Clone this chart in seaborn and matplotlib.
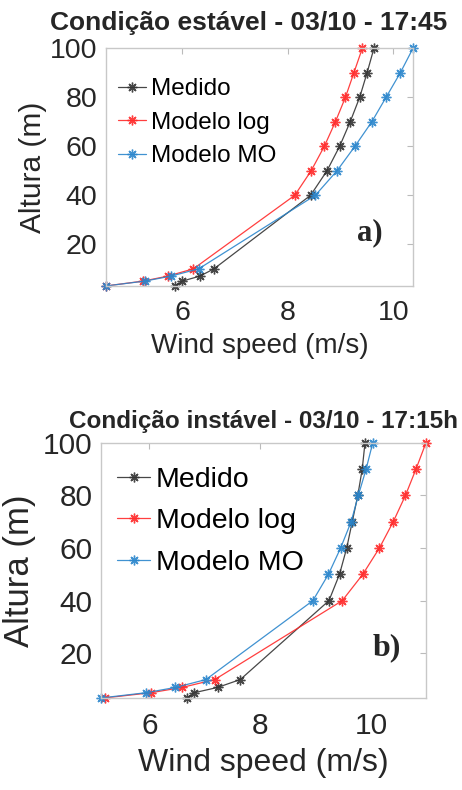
import pandas as pd
import seaborn as sns
import matplotlib.pyplot as plt

# alturas medidas (m)
altura = [3, 5, 7, 10, 40, 50, 60, 70, 80, 90, 100]
series = ["Medido", "Modelo log", "Modelo MO"]

# a) condicao estavel - 03/10 - 17:45
est_medido = [5.87, 6.00, 6.33, 6.60, 8.43, 8.74, 8.98, 9.18, 9.36, 9.50, 9.63]
est_log = [4.55, 5.26, 5.72, 6.21, 8.13, 8.44, 8.69, 8.90, 9.09, 9.25, 9.41]
est_mo = [4.55, 5.29, 5.78, 6.31, 8.52, 8.93, 9.27, 9.59, 9.86, 10.13, 10.37]

# b) condicao instavel - 03/10 - 17:15h
ins_medido = [6.68, 6.81, 7.23, 7.64, 9.24, 9.43, 9.56, 9.66, 9.76, 9.84, 9.89]
ins_log = [5.19, 6.03, 6.59, 7.18, 9.48, 9.85, 10.15, 10.40, 10.62, 10.81, 10.99]
ins_mo = [5.13, 5.94, 6.47, 7.02, 8.95, 9.23, 9.45, 9.64, 9.77, 9.91, 10.03]

cores = {"Medido": "#333333", "Modelo log": "#ff2a2a", "Modelo MO": "#2b86cc"}

sns.set_style("white")
plt.rcParams["font.family"] = ["Liberation Sans", "DejaVu Sans"]


def tabela(vals):
    linhas = []
    for nome, v in zip(series, vals):
        for h, u in zip(altura, v):
            linhas.append({"serie": nome, "vel": u, "alt": h})
    return pd.DataFrame(linhas)


def painel(ax, df, titulo, tit_x, tit_pad, fs_tick, fs_lab, fs_ylab, fs_tit, fs_leg,
           xpad, xlabpad, ylabpad, leg_pos, leg_esp, letra, letra_pos, fs_letra, xlim):
    sns.lineplot(data=df, x="vel", y="alt", hue="serie", hue_order=series,
                 palette=cores, sort=False, estimator=None, ax=ax,
                 linewidth=0.9, legend=False)
    # asterisco estilo MATLAB
    for ln in ax.get_lines():
        ln.set_linestyle("-")
        ln.set_marker((8, 2, 0))
        ln.set_markersize(7)
        ln.set_markeredgewidth(1.0)
        ln.set_markeredgecolor(ln.get_color())
        ln.set_alpha(0.9)
        ln.set_clip_on(False)
    ax.set_xlim(*xlim)
    ax.set_ylim(3, 100)
    ax.set_xticks([6, 8, 10])
    ax.set_yticks([20, 40, 60, 80, 100])
    ax.tick_params(direction="in", length=4, top=True, right=True,
                   labelsize=fs_tick, colors="#bbbbbb", labelcolor="#262626")
    ax.tick_params(axis="y", pad=6)
    ax.tick_params(axis="x", pad=xpad)
    for sp in ax.spines.values():
        sp.set_color("#c8c8c8")
        sp.set_linewidth(1.0)
    ax.set_xlabel("Wind speed (m/s)", fontsize=fs_lab, color="#262626", labelpad=xlabpad)
    ax.set_ylabel("Altura (m)", fontsize=fs_ylab, color="#262626", labelpad=ylabpad)
    ax.set_title(titulo, fontsize=fs_tit, fontweight="bold", x=tit_x, pad=tit_pad)
    leg = ax.legend(ax.get_lines(), series, loc="upper left",
                    bbox_to_anchor=leg_pos, frameon=False,
                    fontsize=fs_leg, handlelength=1.15, handletextpad=0.2,
                    labelspacing=leg_esp, borderaxespad=0.3)
    for t in leg.get_texts():
        t.set_color("black")
    ax.text(letra_pos[0], letra_pos[1], letra, transform=ax.transAxes, fontsize=fs_letra,
            fontweight="bold", family="Liberation Serif", ha="center", va="center")


fig = plt.figure(figsize=(4.62, 7.90), dpi=100)
ax1 = fig.add_axes([0.229, 0.638, 0.665, 0.301])
ax2 = fig.add_axes([0.219, 0.1165, 0.703, 0.323])

painel(ax1, tabela([est_medido, est_log, est_mo]),
       "Condição estável - 03/10 - 17:45", 0.466, 13,
       20.5, 20, 21.5, 19, 17.5, 10, 5, 2, (-0.016, 0.945), 0.47,
       "a)", (0.86, 0.223), 22, (4.55, 10.37))
painel(ax2, tabela([ins_medido, ins_log, ins_mo]),
       "Condição instável - 03/10 - 17:15h", 0.5, 11,
       21.5, 23, 25, 17.5, 20.5, 10, 6, 5, (-0.012, 0.984), 0.54,
       "b)", (0.88, 0.196), 23, (5.13, 10.99))

fig.savefig("out.png", dpi=100)
